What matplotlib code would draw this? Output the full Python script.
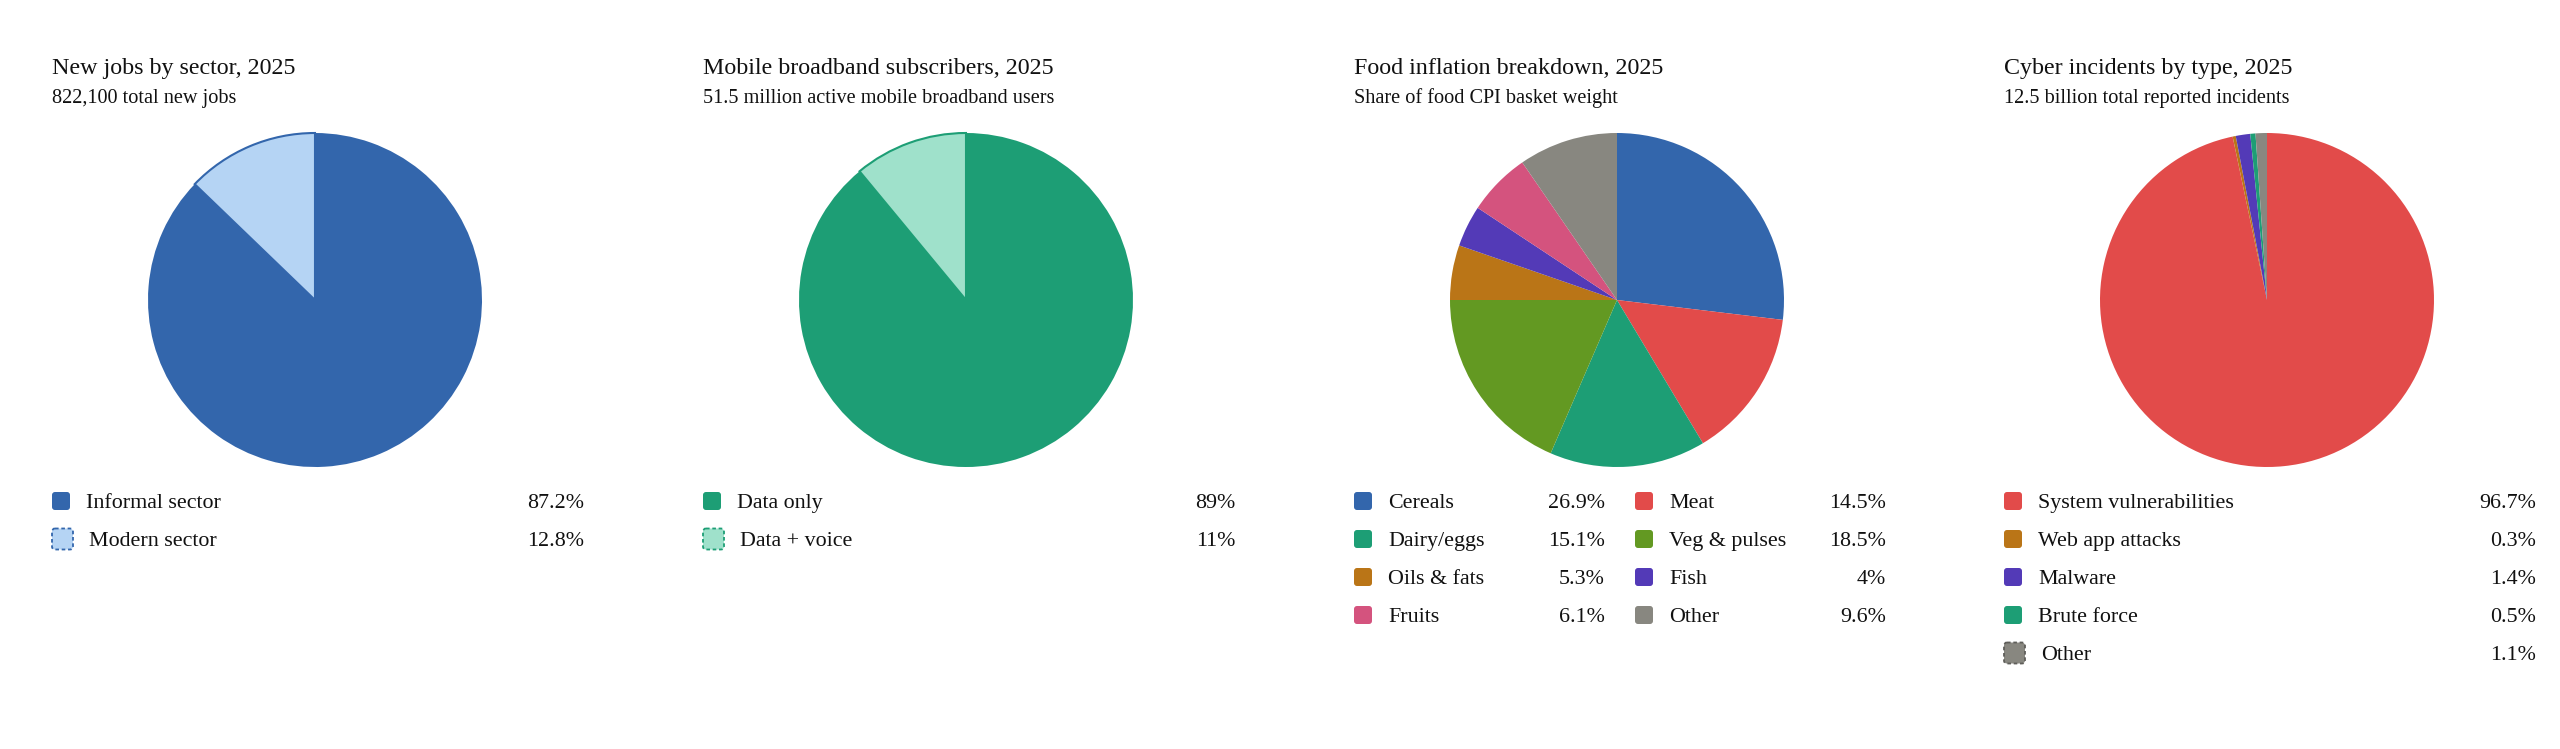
import matplotlib

matplotlib.use("Agg")
import matplotlib.pyplot as plt
from matplotlib.patches import FancyBboxPatch

plt.rcParams["font.family"] = ["Liberation Serif", "DejaVu Serif"]

W, H = 2560, 749
TEXT = "#111111"

# ---- data -------------------------------------------------------------
titles = [
    "New jobs by sector, 2025",
    "Mobile broadband subscribers, 2025",
    "Food inflation breakdown, 2025",
    "Cyber incidents by type, 2025",
]
subtitles = [
    "822,100 total new jobs",
    "51.5 million active mobile broadband users",
    "Share of food CPI basket weight",
    "12.5 billion total reported incidents",
]

jobs_labels = ["Informal sector", "Modern sector"]
jobs_values = [87.2, 12.8]
jobs_colors = ["#3366ac", "#b5d4f4"]
jobs_edges = [None, "#3366ac"]

mobile_labels = ["Data only", "Data + voice"]
mobile_values = [89, 11]
mobile_colors = ["#1d9e75", "#9fe1cb"]
mobile_edges = [None, "#1d9e75"]

food_labels = ["Cereals", "Meat", "Dairy/eggs", "Veg & pulses",
               "Oils & fats", "Fish", "Fruits", "Other"]
food_values = [26.9, 14.5, 15.1, 18.5, 5.3, 4, 6.1, 9.6]
food_colors = ["#3366ac", "#e24b4a", "#1d9e75", "#639922",
               "#ba7517", "#533ab7", "#d4537e", "#888780"]
food_edges = [None] * 8

cyber_labels = ["System vulnerabilities", "Web app attacks", "Malware",
                "Brute force", "Other"]
cyber_values = [96.7, 0.3, 1.4, 0.5, 1.1]
cyber_colors = ["#e24b4a", "#ba7517", "#533ab7", "#1d9e75", "#888780"]
cyber_edges = [None, None, None, None, "#5f5e5a"]


def draw_pie(fig, cx, cy, r, values, colors, edges, outline=True):
    ax = fig.add_axes([(cx - r) / W, 1 - (cy + r) / H, 2 * r / W, 2 * r / H])
    wedges, _ = ax.pie(values, colors=colors, startangle=90,
                       counterclock=False, wedgeprops=dict(linewidth=0))
    for w, e in zip(wedges, edges):
        if e is not None and outline:
            w.set_edgecolor(e)
            w.set_linewidth(1.5)
        w.set_clip_on(False)
    ax.set_xlim(-1, 1)
    ax.set_ylim(-1, 1)
    ax.set_facecolor("none")
    return ax


def draw_legend(ax, x0, labels, values, colors, edges, ncols=1):
    for i, (lab, val, col, edge) in enumerate(zip(labels, values, colors, edges)):
        row, c = divmod(i, ncols)
        if ncols == 1:
            cx, right = x0, x0 + 532
        else:
            cx = x0 + 281 * c
            right = cx + 251
        yc = 501 + 38 * row
        if edge is None:
            size = 18
            patch = FancyBboxPatch((cx, yc - size / 2), size, size,
                                   boxstyle="round,pad=0,rounding_size=3",
                                   facecolor=col, edgecolor="none")
        else:
            size = 21
            patch = FancyBboxPatch((cx, yc - size / 2), size, size,
                                   boxstyle="round,pad=0,rounding_size=3",
                                   facecolor=col, edgecolor=edge,
                                   linewidth=1.3, linestyle=(0, (2, 1.5)))
        ax.add_patch(patch)
        ax.text(cx + size + 16, yc + 7, lab, fontsize=15.8, color=TEXT,
                ha="left", va="baseline")
        ax.text(right, yc + 7, f"{val:g}%", fontsize=15.8, color=TEXT,
                ha="right", va="baseline")


fig = plt.figure(figsize=(W / 100, H / 100), dpi=100)
fig.patch.set_facecolor("white")
overlay = fig.add_axes([0, 0, 1, 1])
overlay.set_xlim(0, W)
overlay.set_ylim(H, 0)
overlay.axis("off")

panel_x = [52, 703, 1354, 2004]
for x0, t, s in zip(panel_x, titles, subtitles):
    overlay.text(x0, 74, t, fontsize=17.3, color=TEXT, ha="left", va="baseline")
    overlay.text(x0, 103, s, fontsize=14.6, color=TEXT, ha="left", va="baseline")

panels = [
    (jobs_labels, jobs_values, jobs_colors, jobs_edges, 1, True),
    (mobile_labels, mobile_values, mobile_colors, mobile_edges, 1, True),
    (food_labels, food_values, food_colors, food_edges, 2, False),
    (cyber_labels, cyber_values, cyber_colors, cyber_edges, 1, False),
]
for x0, (labels, values, colors, edges, ncols, outline) in zip(panel_x, panels):
    draw_pie(fig, x0 + 263, 300, 167, values, colors, edges, outline)
    draw_legend(overlay, x0, labels, values, colors, edges, ncols)

fig.savefig("out.png", dpi=100, facecolor="white")
